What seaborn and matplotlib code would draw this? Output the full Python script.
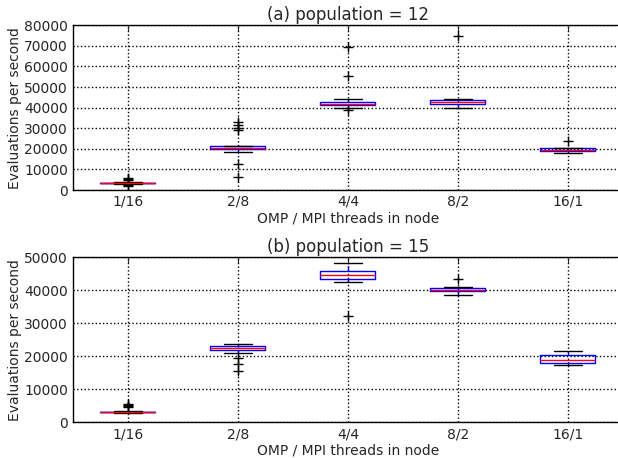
import numpy as np
import pandas as pd
import seaborn as sns
import matplotlib
matplotlib.use("Agg")
import matplotlib.pyplot as plt

# thread layouts (OMP / MPI)
layouts = ['1/16', '2/8', '4/4', '8/2', '16/1']

# measured evaluations per second, population = 12
pop12_1_16 = [1800, 2300, 3000, 3200, 3300, 3350, 3400, 3430, 3460, 3480, 3500,
              3520, 3550, 3580, 3620, 3650, 3800, 4000, 4900, 5300, 5800]
pop12_2_8 = [6450, 12460, 18280, 19300, 19600, 19740, 19950, 20100, 20250, 20400, 20500,
             20650, 20800, 21000, 21200, 21340, 21500, 29000, 30200, 31500, 33000]
pop12_4_4 = [38800, 39600, 40500, 41000, 41200, 41400, 41500, 41600, 41700, 41780, 41850,
             41950, 42100, 42400, 42700, 42900, 43200, 43600, 44000, 55450, 69200]
pop12_8_2 = [39900, 40500, 40900, 41200, 41400, 41560, 41800, 42000, 42200, 42450, 42700,
             42900, 43100, 43300, 43500, 43650, 43800, 44000, 44150, 44300, 74850]
pop12_16_1 = [17800, 18200, 18500, 18700, 18800, 18900, 19050, 19200, 19300, 19450, 19550,
              19650, 19750, 19900, 20050, 20200, 20220, 20250, 20280, 20300, 23900]

# measured evaluations per second, population = 15
pop15_1_16 = [2800, 2900, 2950, 2980, 2990, 3000, 3030, 3050, 3070, 3090, 3100,
              3120, 3150, 3180, 3220, 3250, 3400, 4500, 4800, 5100, 5500]
pop15_2_8 = [15450, 17670, 19480, 21000, 21600, 22000, 22150, 22300, 22400, 22500, 22600,
             22700, 22800, 22900, 23000, 23120, 23300, 23500, 23650, 23750, 23820]
pop15_4_4 = [32120, 42420, 42800, 43100, 43300, 43430, 43700, 44000, 44250, 44450, 44640,
             44850, 45050, 45300, 45600, 45850, 46300, 46800, 47300, 47800, 48180]
pop15_8_2 = [38670, 38900, 39200, 39400, 39550, 39690, 39800, 39900, 40000, 40100, 40200,
             40300, 40400, 40500, 40600, 40700, 40800, 40900, 41000, 41100, 43430]
pop15_16_1 = [17450, 17600, 17800, 17900, 18000, 18070, 18200, 18400, 18550, 18700, 18880,
              19100, 19400, 19800, 20200, 20490, 20700, 20900, 21100, 21350, 21600]

pop12 = [pop12_1_16, pop12_2_8, pop12_4_4, pop12_8_2, pop12_16_1]
pop15 = [pop15_1_16, pop15_2_8, pop15_4_4, pop15_8_2, pop15_16_1]


def to_frame(groups):
    rows = []
    for name, vals in zip(layouts, groups):
        for v in vals:
            rows.append({'layout': name, 'evals': v})
    return pd.DataFrame(rows)


sns.set_style('white')
plt.rcParams['font.family'] = ['DejaVu Sans']
plt.rcParams['font.size'] = 10

fig = plt.figure(figsize=(6.18, 4.58), dpi=100)
# the original figure is cropped on the right, so the axes run past the edge
ax_top = fig.add_axes([0.118, 0.585, 0.89, 0.360])
ax_bot = fig.add_axes([0.118, 0.078, 0.89, 0.360])

box_style = dict(
    width=0.5,
    fill=False,
    boxprops=dict(color='blue', linewidth=1),
    medianprops=dict(color='red', linewidth=1),
    whiskerprops=dict(color='blue', linestyle='--', linewidth=1),
    capprops=dict(color='black', linewidth=1),
    flierprops=dict(marker='+', markeredgecolor='black', markersize=7, linestyle='none'),
)

panels = [
    (ax_top, pop12, '(a) population = 12', 80000),
    (ax_bot, pop15, '(b) population = 15', 50000),
]

for ax, groups, title, ymax in panels:
    df = to_frame(groups)
    sns.boxplot(data=df, x='layout', y='evals', order=layouts, ax=ax, **box_style)
    ax.set_ylim(0, ymax)
    ax.set_yticks(np.arange(0, ymax + 1, 10000))
    ax.set_xlim(-0.5, 4.5)
    ax.set_title(title, fontsize=12, pad=4)
    ax.set_xlabel('OMP / MPI threads in node', fontsize=10, labelpad=1.5)
    ax.set_ylabel('Evaluations per second', fontsize=10, labelpad=1.5)
    ax.grid(True, color='black', linestyle=':', linewidth=1)
    ax.set_axisbelow(True)
    ax.tick_params(direction='in', top=True, right=False, length=4, labelsize=10)
    for s in ax.spines.values():
        s.set_visible(True)
        s.set_color('black')
        s.set_linewidth(1)
    ax.spines['right'].set_visible(False)

fig.savefig('out.png', dpi=100)
